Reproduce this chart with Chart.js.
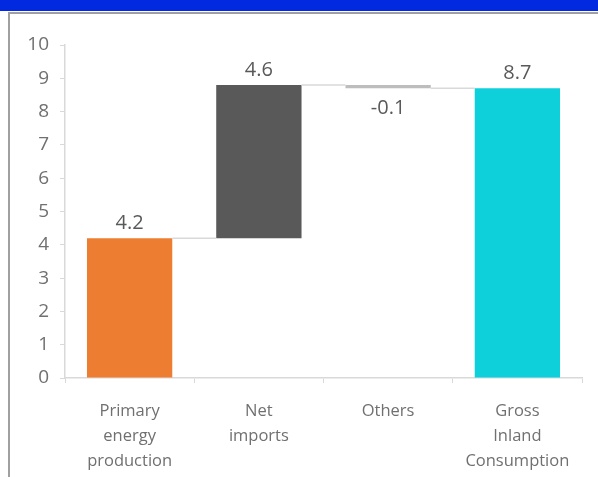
<!DOCTYPE html>
<html>
<head>
<meta charset="utf-8">
<script src="https://cdn.jsdelivr.net/npm/chart.js@4"></script>
<style>
  html, body { margin: 0; padding: 0; background: #fff; }
  body { width: 598px; height: 477px; position: relative; overflow: hidden; font-family: 'Open Sans', sans-serif; }
  #band { position: absolute; left: 0; top: 0; width: 598px; height: 11px; background: #0029e0; }
  #frame { position: absolute; left: 8px; top: 12px; width: 600px; height: 480px; border-left: 2px solid #a0a0a0; border-top: 2px solid #a0a0a0; }
  #wrap { position: absolute; left: 0; top: 0; width: 598px; height: 477px; }
</style>
</head>
<body>
<div id="band"></div>
<div id="frame"></div>
<div id="wrap"><canvas id="chart"></canvas></div>
<script>
const categories = [['Primary', 'energy', 'production'], ['Net', 'imports'], ['Others'], ['Gross', 'Inland', 'Consumption']];
const values = [4.2, 4.6, -0.1, 8.7];
const isTotal = [false, false, false, true];
const colors = ['#ed7d31', '#595959', '#bdbdbd', '#0dd0da'];
const yTicks = [0, 1, 2, 3, 4, 5, 6, 7, 8, 9, 10];

// floating bars for the waterfall
let run = 0;
const ranges = values.map((v, i) => {
  if (isTotal[i]) { run = v; return [0, v]; }
  const r = [run, run + v];
  run += v;
  return r;
});

const labelColor = '#707070';

const waterfall = {
  id: 'waterfall',
  afterDatasetsDraw(chart) {
    const ctx = chart.ctx;
    const meta = chart.getDatasetMeta(0);
    const y = chart.scales.y;
    ctx.save();
    // connectors
    ctx.strokeStyle = '#d9d9d9';
    ctx.lineWidth = 1.5;
    for (let i = 0; i < meta.data.length - 1; i++) {
      const a = meta.data[i], b = meta.data[i + 1];
      const lvl = y.getPixelForValue(ranges[i][1]);
      ctx.beginPath();
      ctx.moveTo(a.x + a.width / 2, lvl);
      ctx.lineTo(b.x - b.width / 2, lvl);
      ctx.stroke();
    }
    // value labels
    ctx.fillStyle = '#595959';
    ctx.font = '20px "Open Sans"';
    ctx.textAlign = 'center';
    ctx.textBaseline = 'middle';
    meta.data.forEach((bar, i) => {
      const v = values[i];
      const top = Math.max(ranges[i][0], ranges[i][1]);
      const bot = Math.min(ranges[i][0], ranges[i][1]);
      const py = v >= 0 ? y.getPixelForValue(top) - 15 : y.getPixelForValue(bot) + 20;
      ctx.fillText(v.toFixed(1), bar.x, py);
    });
    ctx.restore();
  }
};

new Chart(document.getElementById('chart'), {
  type: 'bar',
  data: {
    labels: categories,
    datasets: [{
      data: ranges,
      backgroundColor: colors,
      borderWidth: 0,
      borderSkipped: false,
      barPercentage: 0.66,
      categoryPercentage: 1
    }]
  },
  options: {
    responsive: true,
    maintainAspectRatio: false,
    animation: false,
    layout: { padding: { left: 0, right: 16, top: 45, bottom: 0 } },
    plugins: { legend: { display: false }, tooltip: { enabled: false } },
    scales: {
      x: {
        grid: { offset: true, drawOnChartArea: false, drawTicks: true, tickLength: 5, color: '#d9d9d9' },
        border: { color: '#d9d9d9', width: 1.5 },
        ticks: { color: labelColor, font: { family: 'Open Sans', size: 16.5, lineHeight: 1.5 }, padding: 16, maxRotation: 0, autoSkip: false },
        afterFit(s) { s.height = 99; }
      },
      y: {
        min: 0, max: 10,
        afterBuildTicks(s) { s.ticks = yTicks.map(v => ({ value: v })); },
        grid: { drawOnChartArea: false, drawTicks: true, tickLength: 5, color: '#d9d9d9' },
        border: { color: '#d9d9d9', width: 1.5 },
        ticks: { color: labelColor, font: { family: 'Open Sans', size: 19 }, padding: 11 },
        afterFit(s) { s.width = 65; }
      }
    }
  },
  plugins: [waterfall]
});
</script>
</body>
</html>
